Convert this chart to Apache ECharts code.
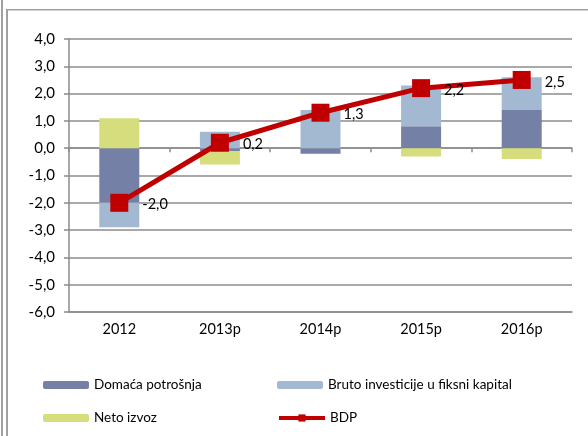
<!DOCTYPE html>
<html>
<head>
<meta charset="utf-8">
<script src="https://cdn.jsdelivr.net/npm/echarts@6/dist/echarts.min.js"></script>
<style>
  html, body { margin: 0; padding: 0; background: #fff; }
  #chart { width: 588px; height: 436px; }
</style>
</head>
<body>
<div id="chart"></div>
<script>
// categories and series (percentage point contributions)
var years = ['2012', '2013p', '2014p', '2015p', '2016p'];
var domacaPotrosnja = [-2.0, -0.1, -0.2, 0.8, 1.4];
var brutoInvesticije = [-0.9, 0.6, 1.4, 1.5, 1.2];
var netoIzvoz = [1.1, -0.5, 0.0, -0.3, -0.4];
var bdp = [-2.0, 0.2, 1.3, 2.2, 2.5];

var FONT = 'Lato, "Open Sans", sans-serif';
var gridColor = '#8c8c8c';

function comma(v) { return v.toFixed(1).replace('.', ','); }

var chart = echarts.init(document.getElementById('chart'));

var legendBase = {
  itemWidth: 46, itemHeight: 8, itemGap: 4,
  textStyle: { fontFamily: FONT, fontSize: 13.5, color: '#000' }
};

chart.setOption({
  animation: false,
  grid: { left: 69, right: 16, top: 39, bottom: 124 },
  legend: [
    Object.assign({ data: ['Domaća potrošnja'], left: 38, top: 373 }, legendBase),
    Object.assign({ data: ['Bruto investicije u fiksni kapital'], left: 272, top: 373 }, legendBase),
    Object.assign({ data: ['Neto izvoz'], left: 38, top: 406 }, legendBase),
    Object.assign({}, legendBase, {
      left: 272, top: 406, itemHeight: 9,
      data: [{ name: 'BDP', lineStyle: { width: 4 }, itemStyle: { color: '#c00000' } }]
    })
  ],
  xAxis: [{
    type: 'category',
    data: years,
    position: 'bottom',
    axisLine: { onZero: false, lineStyle: { color: gridColor, width: 1.5 } },
    axisTick: { show: false },
    axisLabel: { fontFamily: FONT, fontSize: 14.5, color: '#000', margin: 10 }
  }, {
    type: 'category',
    data: years,
    position: 'top',
    axisLine: { onZero: true, lineStyle: { color: gridColor, width: 1.5 } },
    axisTick: { show: true, inside: true, length: 4, lineStyle: { color: gridColor, width: 1.5 } },
    axisLabel: { show: false }
  }],
  yAxis: {
    type: 'value',
    min: -6, max: 4, interval: 1,
    axisLine: { show: true, lineStyle: { color: gridColor, width: 1.5 } },
    axisTick: { show: true, length: 5, lineStyle: { color: gridColor, width: 1.5 } },
    splitLine: { lineStyle: { color: gridColor, width: 1.5 } },
    axisLabel: { fontFamily: FONT, fontSize: 15, color: '#000', margin: 14, formatter: comma }
  },
  series: [{
    name: 'Domaća potrošnja', type: 'bar', stack: 'c', barWidth: 40,
    itemStyle: { color: '#7480a6' }, data: domacaPotrosnja
  }, {
    name: 'Bruto investicije u fiksni kapital', type: 'bar', stack: 'c', barWidth: 40,
    itemStyle: { color: '#a3b9d2' }, data: brutoInvesticije
  }, {
    name: 'Neto izvoz', type: 'bar', stack: 'c', barWidth: 40,
    itemStyle: { color: '#d6dd7d' }, data: netoIzvoz
  }, {
    name: 'BDP', type: 'line', z: 5,
    symbol: 'rect', symbolSize: 18,
    lineStyle: { color: '#c00000', width: 5 },
    itemStyle: { color: '#c00000' },
    label: {
      show: true, position: 'right', distance: 14, offset: [0, 2],
      fontFamily: FONT, fontSize: 14.5, color: '#000',
      formatter: function (p) { return comma(p.value); }
    },
    data: bdp
  }],
  graphic: [
    { type: 'rect', shape: { x: 1, y: 0, width: 2, height: 436 }, style: { fill: '#a0a0a0' } },
    { type: 'rect', shape: { x: 6, y: 9, width: 2, height: 427 }, style: { fill: '#a0a0a0' } },
    { type: 'rect', shape: { x: 6, y: 9, width: 582, height: 1.5 }, style: { fill: '#a0a0a0' } }
  ]
});
</script>
</body>
</html>
